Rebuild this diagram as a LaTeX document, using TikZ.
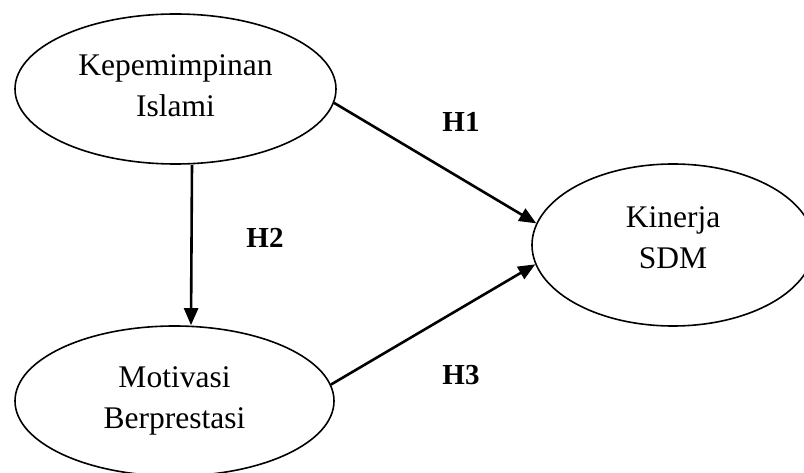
\documentclass[tikz,border=0pt]{standalone}
\usepackage{fontspec}
\setmainfont{Liberation Serif}
\usetikzlibrary{shapes.geometric,arrows.meta}
\tikzset{
  var/.style={ellipse, draw, line width=1.6pt, inner sep=0pt, align=center,
    font=\fontsize{31.5}{41}\selectfont},
  hyp/.style={font=\fontsize{29}{34}\selectfont\bfseries},
  conn/.style={line width=2.6pt, -{Triangle[length=17pt,width=14pt]}}
}
\newcommand\lowpad[1]{\rule[-#1]{0pt}{0pt}}
\begin{document}
\begin{tikzpicture}[x=1pt,y=-1pt]
\useasboundingbox (0,0) rectangle (804,473);
\clip (0,0) rectangle (804,473);
\node[var, minimum width=321pt, minimum height=150pt] (k) at (175.5,89) {Kepemimpinan\\Islami\lowpad{6pt}};
\node[var, minimum width=319pt, minimum height=150pt] (m) at (174.5,401) {Motivasi\\Berprestasi};
\node[var, minimum width=282pt, minimum height=162pt] (s) at (673,245) {Kinerja\\SDM\lowpad{14pt}};
\draw[conn] (k.-5.4) -- (s.171);
\draw[conn] (m.6.9) -- (s.188);
\draw[conn] ([xshift=16.5pt]k.south) -- ([xshift=16.5pt]m.north);
\node[hyp] (h1) at (461,122) {H1};
\node[hyp] (h2) at (265,238) {H2};
\node[hyp] (h3) at (461,375) {H3};
\end{tikzpicture}
\end{document}
